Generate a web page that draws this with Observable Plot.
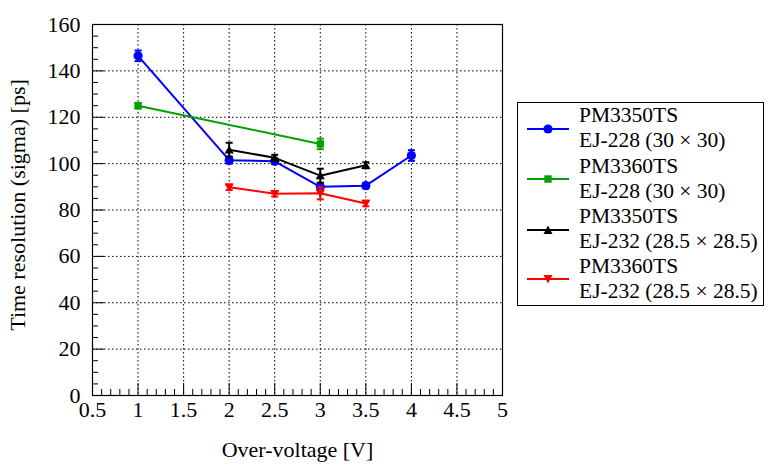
<!DOCTYPE html>
<html>
<head>
<meta charset="utf-8">
<script src="https://cdn.jsdelivr.net/npm/d3@7"></script>
<script src="https://cdn.jsdelivr.net/npm/@observablehq/plot@0.6"></script>
<style>
  html, body { margin: 0; padding: 0; background: #fff; }
  #wrap { position: relative; width: 772px; height: 470px; font-family: "Liberation Serif", "Times New Roman", serif; }
  #legend { position: absolute; left: 517px; top: 102px; width: 247px; height: 204px; border: 1px solid #000; box-sizing: border-box; background: #fff; }
  .entry { position: absolute; left: 0; width: 100%; height: 50px; }
  .entry svg { position: absolute; left: 9px; top: 13.5px; }
  .entry .txt { position: absolute; left: 61px; top: 0px; font-family: "Liberation Serif", "Times New Roman", serif; font-size: 21.5px; line-height: 25px; color: #000; white-space: nowrap; }
  svg text { font-family: "Liberation Serif", "Times New Roman", serif; }
</style>
</head>
<body>
<div id="wrap"></div>
<script>
// ---- data ----
const seriesNames = ["PM3350TS EJ-228 (30 × 30)", "PM3360TS EJ-228 (30 × 30)", "PM3350TS EJ-232 (28.5 × 28.5)", "PM3360TS EJ-232 (28.5 × 28.5)"];
const legendLine1 = ["PM3350TS", "PM3360TS", "PM3350TS", "PM3360TS"];
const legendLine2 = ["EJ-228 (30 × 30)", "EJ-228 (30 × 30)", "EJ-232 (28.5 × 28.5)", "EJ-232 (28.5 × 28.5)"];
const seriesColors = ["#0000ff", "#00a000", "#000000", "#ff0000"];
const xTitle = "Over-voltage [V]";
const yTitle = "Time resolution (sigma) [ps]";

const s1V = [1, 2, 2.5, 3, 3.5, 4];
const s1T = [146.5, 101.5, 101, 90, 90.5, 103.5];
const s1E = [2.3, 1.5, 1.2, 1.5, 1.2, 2.3];

const s2V = [1, 3];
const s2T = [125, 108.5];
const s2E = [1.2, 2.3];

const s3V = [2, 2.5, 3, 3.5];
const s3T = [106, 102.5, 94.8, 99.3];
const s3E = [3, 1.3, 3, 1.3];

const s4V = [2, 2.5, 3, 3.5];
const s4T = [89.8, 87, 87.2, 82.8];
const s4E = [1.2, 1.2, 2.6, 1.2];

const xTicks = [0.5, 1, 1.5, 2, 2.5, 3, 3.5, 4, 4.5, 5];
const yTicks = [0, 20, 40, 60, 80, 100, 120, 140, 160];
const xMinor = d3.range(0.5, 5.0001, 0.1).map(v => +v.toFixed(2));
const yMinor = d3.range(0, 160.0001, 5);

// ---- build table ----
const raw = [[s1V, s1T, s1E], [s2V, s2T, s2E], [s3V, s3T, s3E], [s4V, s4T, s4E]];
const rows = [];
raw.forEach(([vs, ts, es], i) => vs.forEach((v, j) => rows.push({series: seriesNames[i], v, t: ts[j], e: es[j]})));

const triangleUp = {
  draw(context, size) {
    const r = Math.sqrt(size / Math.PI);
    context.moveTo(-r, r * 0.8);
    context.lineTo(r, r * 0.8);
    context.lineTo(0, -r * 0.95);
    context.closePath();
  }
};
const triangleDown = {
  draw(context, size) {
    const r = Math.sqrt(size / Math.PI);
    context.moveTo(-r, -r * 0.8);
    context.lineTo(r, -r * 0.8);
    context.lineTo(0, r * 0.95);
    context.closePath();
  }
};
const capShape = {
  draw(context) { context.moveTo(-3.5, 0); context.lineTo(3.5, 0); }
};
const symbols = ["circle", "square", triangleUp, triangleDown];
const symR = [4.6, 4.1, 4.6, 4.6];

const W = 772, H = 470, mL = 92, mR = 270, mT = 24, mB = 75;
const pw = W - mL - mR, ph = H - mT - mB;
const serif = "'Liberation Serif', 'Times New Roman', serif";

const marks = [
  Plot.ruleY(yTicks.slice(1, -1), {stroke: "#000", strokeWidth: 1, strokeDasharray: "1.5,2.5"}),
  Plot.ruleX(xTicks.slice(1, -1), {stroke: "#000", strokeWidth: 1, strokeDasharray: "1.5,2.5"}),
  // inward ticks
  Plot.tickY(yTicks, {y: d => d, stroke: "#000", insetRight: pw - 12}),
  Plot.tickY(yMinor.filter(v => v % 20 !== 0), {y: d => d, stroke: "#000", insetRight: pw - 6}),
  Plot.tickX(xTicks, {x: d => d, stroke: "#000", insetTop: ph - 12}),
  Plot.tickX(xMinor.filter(v => Math.abs(v * 2 - Math.round(v * 2)) > 1e-6), {x: d => d, stroke: "#000", insetTop: ph - 6}),
  Plot.frame({stroke: "#000", strokeWidth: 1.2}),
];

seriesNames.forEach((name, i) => {
  const data = rows.filter(r => r.series === name);
  const c = seriesColors[i];
  marks.push(
    Plot.line(data, {x: "v", y: "t", stroke: c, strokeWidth: 2}),
    Plot.ruleX(data, {x: "v", y1: d => d.t - d.e, y2: d => d.t + d.e, stroke: c, strokeWidth: 2}),
    Plot.dot(data, {x: "v", y: d => d.t + d.e, symbol: capShape, stroke: c, strokeWidth: 2, fill: "none"}),
    Plot.dot(data, {x: "v", y: d => d.t - d.e, symbol: capShape, stroke: c, strokeWidth: 2, fill: "none"}),
    Plot.dot(data, {x: "v", y: "t", symbol: symbols[i], r: symR[i], fill: c, stroke: "none"})
  );
});

marks.push(
  Plot.axisX(xTicks, {tickSize: 0, tickPadding: 6, fontSize: 22, fontFamily: serif, label: null, tickFormat: d => String(d)}),
  Plot.axisY(yTicks, {tickSize: 0, tickPadding: 12, fontSize: 22, fontFamily: serif, label: null, tickFormat: d => String(d)}),
  Plot.text([xTitle], {text: d => d, frameAnchor: "bottom", dy: 54, lineAnchor: "middle", textAnchor: "middle", fontSize: 22, fontFamily: serif, fill: "#000"}),
  Plot.text([yTitle], {text: d => d, frameAnchor: "left", rotate: -90, dx: -75, dy: -5, lineAnchor: "middle", textAnchor: "middle", fontSize: 22, fontFamily: serif, fill: "#000"})
);

const chart = Plot.plot({
  width: W, height: H,
  marginLeft: mL, marginRight: mR, marginTop: mT, marginBottom: mB,
  style: {fontFamily: serif, fontSize: "22px", color: "#000", background: "#fff"},
  x: {domain: [0.5, 5], label: null},
  y: {domain: [0, 160], label: null},
  marks
});

const wrap = document.getElementById("wrap");
wrap.appendChild(chart);

// ---- legend ----
const legend = document.createElement("div");
legend.id = "legend";
const markerSvg = [
  '<circle cx="21" cy="12" r="4.6" fill="#0000ff"/>',
  '<rect x="17.3" y="8.3" width="7.4" height="7.4" fill="#00a000"/>',
  '<path d="M16.5 16 L25.5 16 L21 7.5 Z" fill="#000000"/>',
  '<path d="M16.5 8 L25.5 8 L21 16.5 Z" fill="#ff0000"/>'
];
const tops = [0.2, 50.7, 101.2, 150.7];
seriesNames.forEach((name, i) => {
  const e = document.createElement("div");
  e.className = "entry";
  e.style.top = tops[i] + "px";
  e.innerHTML = `<svg width="42" height="24"><line x1="0" x2="42" y1="12" y2="12" stroke="${seriesColors[i]}" stroke-width="2"/>${markerSvg[i]}</svg><div class="txt">${legendLine1[i]}<br>${legendLine2[i]}</div>`;
  legend.appendChild(e);
});
wrap.appendChild(legend);
</script>
</body>
</html>
